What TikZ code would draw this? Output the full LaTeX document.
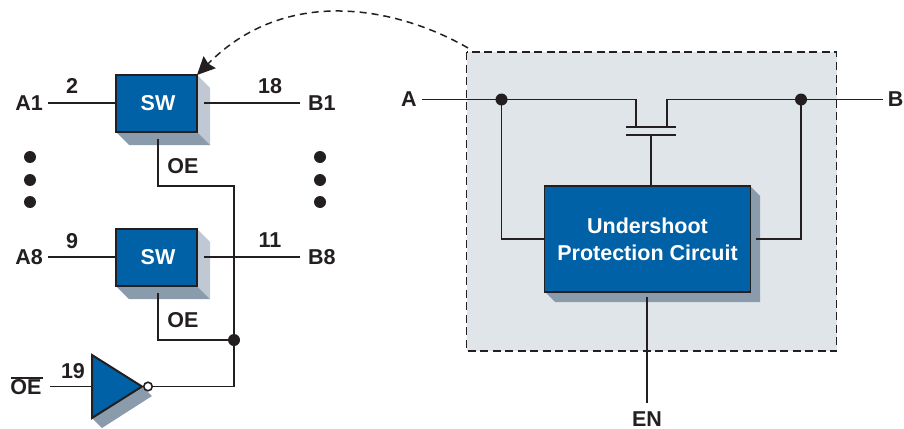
\documentclass[tikz,border=0pt]{standalone}
\usepackage{fontspec}
\setmainfont{Liberation Sans}
\usetikzlibrary{arrows.meta}
\definecolor{ink}{HTML}{231F20}
\definecolor{blu}{HTML}{0061A6}
\definecolor{shadeD}{HTML}{8A9BAB}
\definecolor{shadeL}{HTML}{BFC8D3}
\definecolor{panel}{HTML}{DFE5E9}
\tikzset{
  wire/.style={draw=ink,line width=1.6pt},
  lbl/.style={font=\fontsize{21.5}{22}\selectfont\bfseries,text=ink,inner sep=0pt},
  wlbl/.style={font=\fontsize{21.5}{27}\selectfont\bfseries,text=white,inner sep=0pt,align=center},
  blk/.style={draw=ink,fill=blu,line width=2pt},
  jdot/.style={circle,fill=ink,inner sep=0pt,minimum size=12pt},
  vdot/.style={circle,fill=ink,inner sep=0pt,minimum size=12pt},
}
\begin{document}
\begin{tikzpicture}[x=1pt,y=-1pt]
\useasboundingbox (0,0) rectangle (904,428);
% panel
\draw[fill=panel,draw=ink,line width=1.6pt,dash pattern=on 8pt off 4.5pt] (466.5,52) rectangle (836.5,351);
% shadows
\fill[shadeL] (197,75) -- (210,88) -- (210,145) -- (197,132) -- cycle;
\fill[shadeD] (116,132) -- (197,132) -- (210,145) -- (129,145) -- cycle;
\fill[shadeL] (197,229) -- (210,242) -- (210,299) -- (197,286) -- cycle;
\fill[shadeD] (116,286) -- (197,286) -- (210,299) -- (129,299) -- cycle;
\fill[shadeD] (750,186) -- (760,196) -- (760,302) -- (555,302) -- (545,292) -- (750,292) -- cycle;
\fill[shadeD] (92,418) -- (102,428) -- (152,396) -- (142,386) -- cycle;
% blocks
\node[blk,minimum width=81pt,minimum height=57pt,anchor=north west,inner sep=0pt,outer sep=0pt,wlbl] (sw1) at (116,75) {\hspace*{3pt}SW};
\node[blk,minimum width=81pt,minimum height=57pt,anchor=north west,inner sep=0pt,outer sep=0pt,wlbl] (sw2) at (116,229) {\hspace*{3pt}SW};
\node[blk,line width=1.6pt,minimum width=206pt,minimum height=106pt,anchor=north west,inner sep=0pt,outer sep=0pt,wlbl] (upc) at (544.5,186) {Undershoot\\Protection Circuit};
\draw[blk,line join=miter] (92,355) -- (92,418) -- (142,386.5) -- cycle;
\coordinate (invin) at (92,386.5);
\node[circle,draw=ink,fill=white,line width=1.6pt,inner sep=0pt,minimum size=8.5pt] (bub) at (148,386.5) {};
% labels
\node[lbl,anchor=east] (a1) at (43,103) {A1};
\node[lbl,anchor=west] (b1) at (308,103) {B1};
\node[lbl,anchor=east] (a8) at (43,257) {A8};
\node[lbl,anchor=west] (b8) at (308,257) {B8};
\node[lbl] (n2) at (72,86) {2};
\node[lbl] (n18) at (270,86) {18};
\node[lbl] (n9) at (72,241) {9};
\node[lbl] (n11) at (270,240) {11};
\node[lbl] (n19) at (73,371) {19};
\node[lbl] (oe1) at (183,166) {OE};
\node[lbl] (oe2) at (183,320) {OE};
\node[lbl] (oebar) at (26,387) {OE};
\draw[ink,line width=1.6pt] (11,378) -- (43,378);
\node[lbl] (na) at (409,99) {A};
\node[lbl] (nb) at (895.5,99) {B};
\node[lbl,anchor=base] (en) at (647,426.5) {EN};
% left wires
\coordinate (a1e) at (48,103); \coordinate (b1s) at (204,103); \coordinate (b1e) at (300,103);
\coordinate (a8e) at (48,257); \coordinate (b8s) at (204,257); \coordinate (b8e) at (300,257);
\draw[wire] (a1e) -- (sw1.west |- a1e);
\draw[wire] (b1s) -- (b1e);
\draw[wire] (a8e) -- (sw2.west |- a8e);
\draw[wire] (b8s) -- (b8e);
\node[jdot] (j1) at (234,340) {};
\draw[wire] (158,139) -- (158,186) -- (234,186) -- (j1.center) -- (234,386.5) -- (bub.east);
\draw[wire] (158,293) -- (158,340) -- (j1.center);
\draw[wire] (50,386.5) -- (invin);
% vertical dots
\foreach \n/\x/\y in {d1/30/157,d2/30/180,d3/30/202,d4/320/157,d5/320/180,d6/320/202}
  \node[vdot] (\n) at (\x,\y) {};
% right wires
\node[jdot] (ja) at (501.5,99.5) {};
\node[jdot] (jb) at (801,99.5) {};
\draw[wire] (422,99.5) -- (ja.center) -- (636,99.5) -- (636,126.5);
\draw[wire] (883,99.5) -- (jb.center) -- (667,99.5) -- (667,126.5);
\draw[wire,line width=2pt] (626,126.5) -- (675.5,126.5);
\draw[wire,line width=2pt] (626,134.8) -- (675.5,134.8);
\draw[wire] (651,134.8) -- (651,186);
\draw[wire] (ja.center) -- (501.5,239) -- (544.5,239);
\draw[wire] (jb.center) -- (801,239) -- (756,239);
\draw[wire] (647,297) -- (647,403);
% dashed curve
\coordinate (cs) at (468,48);
\coordinate (ce) at (197,75);
\draw[draw=ink,line width=1.5pt,dash pattern=on 7pt off 5pt,-{Stealth[length=18pt,width=17pt,inset=2pt]}]
  (cs) .. controls (395,6) and (285,-14) .. (ce);
\end{tikzpicture}
\end{document}
